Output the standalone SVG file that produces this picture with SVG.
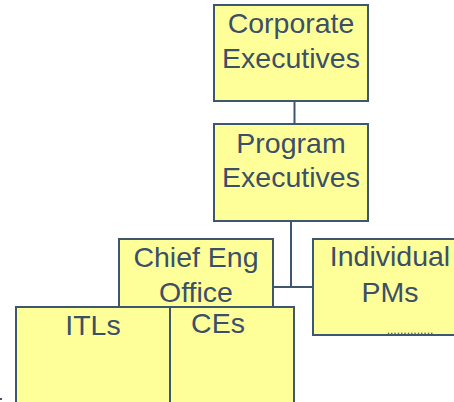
<svg xmlns="http://www.w3.org/2000/svg" width="454" height="402" viewBox="0 0 454 402">
<style>
.box{fill:#FFFF99;stroke:#3F5670;stroke-width:2}
.lbl{font-family:"Liberation Sans",Arial,sans-serif;font-size:28.5px;fill:#3B5068;text-anchor:middle}
.con{stroke:#3F5670;stroke-width:2;fill:none}
</style>
<rect width="454" height="402" fill="#FFFFFF"/>
<g id="connectors">
<line class="con" x1="294.5" y1="101" x2="294.5" y2="124"/>
<line class="con" x1="291" y1="221" x2="291" y2="287"/>
<line class="con" x1="273" y1="287" x2="313" y2="287"/>
</g>
<g id="corporate-executives">
<rect class="box" x="214" y="5" width="154" height="96"/>
<text class="lbl" x="291" y="33">Corporate</text>
<text class="lbl" x="291" y="68">Executives</text>
</g>
<g id="program-executives">
<rect class="box" x="214" y="124" width="154" height="97"/>
<text class="lbl" x="291" y="153">Program</text>
<text class="lbl" x="291" y="187">Executives</text>
</g>
<g id="chief-eng-office">
<rect class="box" x="119" y="239" width="154" height="70"/>
<text class="lbl" x="196" y="267">Chief Eng</text>
<text class="lbl" x="196" y="302">Office</text>
</g>
<g id="individual-pms">
<rect class="box" x="313" y="239" width="154" height="96"/>
<text class="lbl" x="390" y="266">Individual</text>
<text class="lbl" x="390" y="302">PMs</text>
<text x="410" y="334" font-family="Liberation Sans,Arial,sans-serif" font-size="12" fill="#3B5068" text-anchor="middle">..............</text>
</g>
<g id="itls">
<rect class="box" x="16" y="307" width="154" height="110"/>
<text class="lbl" x="93" y="335">ITLs</text>
</g>
<g id="ces">
<rect class="box" x="170" y="307" width="124" height="110"/>
<text class="lbl" x="218" y="333">CEs</text>
</g>
<rect x="0" y="398" width="2" height="2" fill="#3F5670"/>
</svg>
